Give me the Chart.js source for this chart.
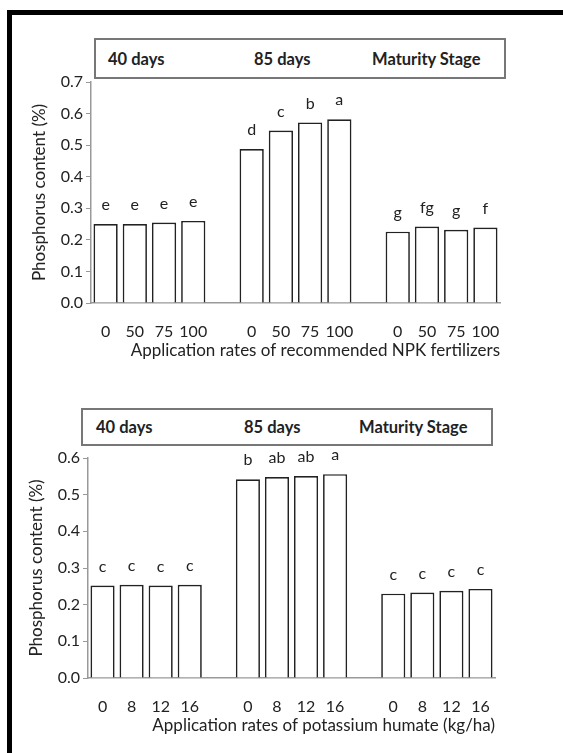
<!DOCTYPE html>
<html lang="en">
    <head>
        <meta charset="UTF-8" />
        <title>Phosphorus content</title>
        <script src="https://cdn.jsdelivr.net/npm/chart.js"></script>
        <style>
            body { margin: 0; background: #fff; width: 563px; height: 753px; overflow: hidden; position: relative; font-family: Lato, sans-serif; }
            .frame { position: absolute; left: 7px; top: 10px; width: 700px; height: 900px; border: 5px solid #000; }
            canvas { position: absolute; left: 0; }
            .stagebox { position: absolute; border: 2px solid #777; box-sizing: border-box; background: #fff; }
            .stagebox span { position: absolute; font-weight: bold; font-size: 16.5px; color: #222; top: 50%; transform: translateY(-50%); white-space: nowrap; }
        </style>
    </head>
    <body>
        <div class="frame"></div>
        <canvas id="top" width="563" height="370" style="top:0"></canvas>
        <canvas id="bottom" width="563" height="383" style="top:370px"></canvas>
        <div class="stagebox" style="left:94px;top:38px;width:412px;height:41px">
            <span style="left:12px">40 days</span><span style="left:158px">85 days</span><span style="left:276px">Maturity Stage</span>
        </div>
        <div class="stagebox" style="left:81px;top:408px;width:412px;height:38px">
            <span style="left:13px">40 days</span><span style="left:161px">85 days</span><span style="left:276px">Maturity Stage</span>
        </div>
        <script>
            const npkRates = ["0", "50", "75", "100"];
            const humateRates = ["0", "8", "12", "16"];

            const npk40 = [0.25, 0.25, 0.255, 0.26];
            const npk85 = [0.488, 0.546, 0.572, 0.582];
            const npkMat = [0.226, 0.242, 0.232, 0.239];
            const npkLetters = ["e", "e", "e", "e", "d", "c", "b", "a", "g", "fg", "g", "f"];

            const humate40 = [0.252, 0.254, 0.252, 0.254];
            const humate85 = [0.542, 0.548, 0.551, 0.556];
            const humateMat = [0.23, 0.233, 0.238, 0.243];
            const humateLetters = ["c", "c", "c", "c", "b", "ab", "ab", "a", "c", "c", "c", "c"];

            const yTitle = "Phosphorus content (%)";
            const npkTitle = "Application rates of recommended NPK fertilizers";
            const humateTitle = "Application rates of potassium humate (kg/ha)";

            // three groups with an empty slot between them
            function withGaps(a, b, c, gap) {
                return [...a, gap, ...b, gap, ...c];
            }

            const letterPlugin = {
                id: "letters",
                afterDatasetsDraw(chart) {
                    const letters = chart.options.plugins.letters.list.slice();
                    const ctx = chart.ctx;
                    const meta = chart.getDatasetMeta(0);
                    ctx.save();
                    ctx.font = "16px Lato";
                    ctx.fillStyle = "#222";
                    ctx.textAlign = "center";
                    ctx.textBaseline = "middle";
                    meta.data.forEach((bar, i) => {
                        const v = chart.data.datasets[0].data[i];
                        if (v === null) return;
                        ctx.fillText(letters.shift(), bar.x, bar.y - 19);
                    });
                    ctx.restore();
                },
            };

            function makeChart(id, rates, a, b, c, letters, yMax, xTitle, pad) {
                new Chart(document.getElementById(id), {
                    type: "bar",
                    data: {
                        labels: withGaps(rates, rates, rates, ""),
                        datasets: [
                            {
                                data: withGaps(a, b, c, null),
                                backgroundColor: "#fff",
                                borderColor: "#222",
                                borderWidth: 1.7,
                                categoryPercentage: 1,
                                barPercentage: 0.83,
                            },
                        ],
                    },
                    plugins: [letterPlugin],
                    options: {
                        responsive: false,
                        animation: false,
                        layout: { padding: pad },
                        plugins: {
                            legend: { display: false },
                            tooltip: { enabled: false },
                            letters: { list: letters },
                        },
                        scales: {
                            x: {
                                grid: { display: false },
                                border: { display: true, color: "#999", width: 1.5 },
                                ticks: { color: "#222", font: { family: "Lato", size: 16 }, padding: 11, maxRotation: 0, autoSkip: false },
                                title: { display: true, text: xTitle, align: "end", color: "#222", font: { family: "Lato", size: 17 }, padding: { top: 0, bottom: 0 } },
                                afterFit(scale) { scale.height = 58; },
                            },
                            y: {
                                min: 0,
                                max: yMax,
                                grid: { drawOnChartArea: false, tickLength: 5, color: "#999" },
                                border: { color: "#999", width: 1.5 },
                                ticks: { stepSize: 0.1, color: "#222", font: { family: "Lato", size: 16 }, padding: 3, callback: (v) => v.toFixed(1) },
                                title: { display: true, text: yTitle, color: "#222", font: { family: "Lato", size: 17 }, padding: 0 },
                                afterFit(scale) { scale.width = 62; },
                            },
                        },
                    },
                });
            }

            makeChart("top", npkRates, npk40, npk85, npkMat, npkLetters, 0.7, npkTitle, { left: 29, top: 82, right: 63, bottom: 9 });
            makeChart("bottom", humateRates, humate40, humate85, humateMat, humateLetters, 0.6, humateTitle, { left: 26, top: 88, right: 68, bottom: 17 });
        </script>
    </body>
</html>
